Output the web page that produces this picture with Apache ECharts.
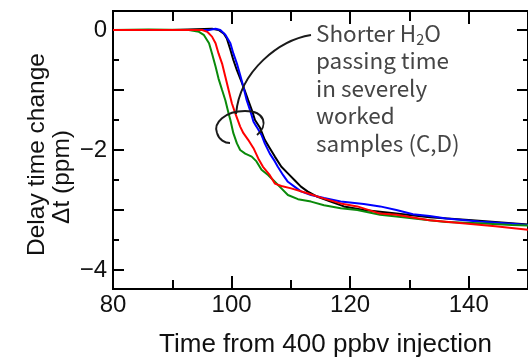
<!DOCTYPE html>
<html>
<head>
<meta charset="utf-8">
<script src="https://cdn.jsdelivr.net/npm/echarts@6/dist/echarts.min.js"></script>
<style>html,body{margin:0;padding:0;background:#fff}#c{width:528px;height:361px}</style>
</head>
<body>
<div id="c"></div>
<script>
// ---- data ----
const xLabelValues = [80, 100, 120, 140];
const xMinorTicks = [80, 90, 100, 110, 120, 130, 140, 150];
const yLabelValues = [-4, -2, 0];
const yMajorTicks = [-4, -3, -2, -1, 0];
const yMinorTicks = [-4, -3.5, -3, -2.5, -2, -1.5, -1, -0.5, 0];

const blackX = [80, 90, 96.7, 97.8, 98.7, 99.2, 99.8, 100.3, 100.9, 101.7, 102.3, 102.8, 103.4, 103.95, 104.8, 105.6, 106.45, 107.3, 108.4, 109.5, 110.6, 111.7, 112.8, 114.5, 116.7, 118.95, 122.3, 127.8, 133.4, 140.6, 150];
const blackY = [0, 0, 0.02, 0, -0.06, -0.14, -0.33, -0.5, -0.67, -0.87, -1.03, -1.17, -1.33, -1.5, -1.63, -1.83, -1.97, -2.11, -2.28, -2.39, -2.5, -2.61, -2.69, -2.78, -2.86, -2.94, -3.0, -3.06, -3.12, -3.17, -3.24];

const blueX = [80, 90, 96.2, 97.3, 98.1, 98.95, 99.8, 100.3, 100.9, 101.45, 102.0, 102.55, 103.1, 103.7, 104.2, 105.05, 105.6, 106.45, 107.3, 107.8, 108.7, 109.5, 110.6, 111.7, 113.4, 115.6, 118.4, 122.3, 125.05, 127.8, 130.6, 133.4, 136.2, 141.7, 147.3, 150];
const blueY = [0, 0, 0, 0.02, 0, -0.08, -0.22, -0.39, -0.56, -0.75, -0.95, -1.17, -1.33, -1.53, -1.61, -1.75, -1.89, -2.06, -2.19, -2.28, -2.42, -2.53, -2.61, -2.69, -2.75, -2.8, -2.86, -2.9, -2.94, -3.0, -3.07, -3.1, -3.14, -3.19, -3.23, -3.25];

const greenX = [80, 86, 92.8, 94.5, 95.3, 96.2, 96.7, 97.3, 97.8, 98.4, 98.95, 99.5, 99.8, 100.3, 100.9, 101.45, 102.3, 103.4, 104.2, 105.05, 106.2, 107.3, 108.4, 109.5, 111.2, 113.4, 115.6, 118.4, 121.2, 125.05, 127.8, 133.4, 136.2, 141.7, 147.3, 150];
const greenY = [0, 0.01, 0, -0.03, -0.08, -0.22, -0.39, -0.61, -0.81, -1.0, -1.17, -1.39, -1.5, -1.72, -1.89, -2.0, -2.06, -2.11, -2.19, -2.33, -2.42, -2.53, -2.64, -2.75, -2.82, -2.86, -2.92, -2.97, -3.0, -3.08, -3.11, -3.17, -3.2, -3.22, -3.25, -3.26];

const redX = [80, 88, 95.05, 95.9, 96.7, 97.3, 97.8, 98.4, 98.95, 99.5, 100.05, 100.6, 101.45, 102.0, 102.8, 103.7, 104.5, 105.3, 106.45, 107.3, 108.4, 110.05, 112.8, 115.6, 118.4, 121.2, 125.05, 127.8, 133.4, 138.95, 144.5, 149.2, 150];
const redY = [0, 0, 0, -0.03, -0.11, -0.22, -0.39, -0.56, -0.78, -1.0, -1.22, -1.38, -1.61, -1.72, -1.83, -1.97, -2.14, -2.28, -2.42, -2.56, -2.6, -2.64, -2.72, -2.81, -2.89, -2.94, -3.06, -3.08, -3.17, -3.22, -3.27, -3.32, -3.33];

const xTitle = 'Time from 400 ppbv injection';
const yTitle1 = 'Delay time change';
const yTitle2 = 'Δt (ppm)';
const noteLines = ['{a|Shorter H}{s|2}{a|O}', '{a|passing time}', '{a|in severely}', '{a|worked}', '{a|samples (C,D)}'];

// ---- chart ----
const pair = (xs, ys) => xs.map((x, i) => [x, ys[i]]);
const fmt = v => (v < 0 ? '\u2212' + Math.abs(v) : String(v));
const X_MIN = 80, X_MAX = 150, Y_MIN = -4.317, Y_MAX = 0.317;
const FONT = 'Liberation Sans, Arial, sans-serif';
const axisLineStyle = { color: '#000', width: 2 };

function xAx(pos, ticks, len, labels) {
  return {
    type: 'value', min: X_MIN, max: X_MAX, position: pos,
    axisLine: { show: true, onZero: false, lineStyle: axisLineStyle },
    axisTick: { show: true, inside: true, length: len, customValues: ticks, lineStyle: { color: '#000', width: 2 } },
    axisLabel: labels ? { show: true, customValues: labels, fontSize: 24, fontFamily: FONT, color: '#111', margin: 4 } : { show: false },
    splitLine: { show: false }
  };
}
function yAx(pos, ticks, len, labels) {
  return {
    type: 'value', min: Y_MIN, max: Y_MAX, position: pos,
    axisLine: { show: true, onZero: false, lineStyle: axisLineStyle },
    axisTick: { show: true, inside: true, length: len, customValues: ticks, lineStyle: { color: '#000', width: 2 } },
    axisLabel: labels ? { show: true, customValues: labels, fontSize: 24, fontFamily: FONT, color: '#111', margin: 6, formatter: fmt } : { show: false },
    splitLine: { show: false }
  };
}
function line(name, color, data) {
  return { name, type: 'line', xAxisIndex: 0, yAxisIndex: 0, data, showSymbol: false, symbol: 'none',
    lineStyle: { color, width: 2 }, itemStyle: { color }, clip: true };
}

const chart = echarts.init(document.getElementById('c'), null, { renderer: 'canvas' });
chart.setOption({
  animation: false,
  backgroundColor: '#fff',
  grid: { left: 113, top: 11, right: -5, bottom: 72, containLabel: false },
  xAxis: [
    xAx('bottom', xLabelValues, 13, xLabelValues),
    xAx('bottom', xMinorTicks, 9, null),
    xAx('top', xLabelValues, 13, null),
    xAx('top', xMinorTicks, 10, null)
  ],
  yAxis: [
    yAx('left', yMajorTicks, 11, yLabelValues),
    yAx('left', yMinorTicks, 6, null),
    yAx('right', yMajorTicks, 11, null),
    yAx('right', yMinorTicks, 5, null)
  ],
  series: [
    line('black', '#000000', pair(blackX, blackY)),
    line('blue', '#0000ff', pair(blueX, blueY)),
    line('green', '#0a8a0a', pair(greenX, greenY)),
    line('red', '#ff0000', pair(redX, redY))
  ],
  graphic: [
    { type: 'text', x: 325.5, y: 345, z: 100, style: { text: xTitle, font: '26px ' + FONT, fill: '#111', align: 'center', verticalAlign: 'middle' } },
    { type: 'text', x: 37, y: 154.5, rotation: Math.PI / 2, z: 100, style: { text: yTitle1, font: '24.5px ' + FONT, fill: '#111', align: 'center', verticalAlign: 'middle' } },
    { type: 'text', x: 62, y: 177, rotation: Math.PI / 2, z: 100, style: { text: yTitle2, font: '24.5px ' + FONT, fill: '#111', align: 'center', verticalAlign: 'middle' } },
    { type: 'text', x: 316, y: 19.7, z: 100, style: {
        text: noteLines.join('\n'), align: 'left', verticalAlign: 'top',
        fontFamily: 'Noto Sans CJK JP', fontSize: 22.5, lineHeight: 27.5, fill: '#454545',
        rich: {
          a: { fontFamily: 'Noto Sans CJK JP', fontSize: 22.5, lineHeight: 27.5, fill: '#454545', color: '#454545' },
          s: { fontFamily: 'Noto Sans CJK JP', fontSize: 14.5, lineHeight: 27.5, fill: '#454545', color: '#454545', verticalAlign: 'bottom' }
        } } },
    { type: 'bezierCurve', z: 100, shape: { x1: 311, y1: 35, cpx1: 280, cpy1: 40, cpx2: 240, cpy2: 70, x2: 236, y2: 114 }, style: { stroke: '#1a1a1a', lineWidth: 2, fill: null } },
    { type: 'bezierCurve', z: 100, shape: { x1: 257, y1: 135, cpx1: 268, cpy1: 126, cpx2: 266, cpy2: 111, x2: 245, y2: 111 }, style: { stroke: '#1a1a1a', lineWidth: 2, fill: null } },
    { type: 'bezierCurve', z: 100, shape: { x1: 245, y1: 111, cpx1: 225, cpy1: 111, cpx2: 213, cpy2: 123, x2: 217, y2: 133 }, style: { stroke: '#1a1a1a', lineWidth: 2, fill: null } },
    { type: 'bezierCurve', z: 100, shape: { x1: 217, y1: 133, cpx1: 219, cpy1: 140, cpx2: 225, cpy2: 143, x2: 230, y2: 143 }, style: { stroke: '#1a1a1a', lineWidth: 2, fill: null } }
  ]
});
</script>
</body>
</html>
